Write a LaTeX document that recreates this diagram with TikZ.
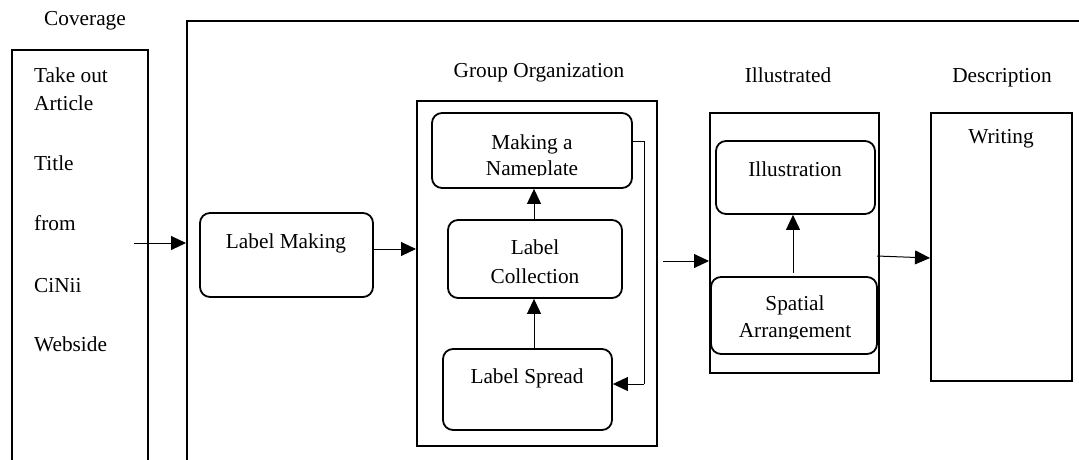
\documentclass[tikz,border=0pt]{standalone}
\usepackage{fontspec}
\setmainfont{Liberation Serif}
\usetikzlibrary{arrows.meta}
\begin{document}
\begin{tikzpicture}[x=1pt,y=-1pt,
  txt/.style={inner sep=0pt,anchor=base,font=\fontsize{21.3}{25}\selectfont},
  frame/.style={draw,line width=2pt},
  rbox/.style={draw,line width=1.8pt,rounded corners=10pt},
  conn/.style={line width=1pt,-{Triangle[length=15pt,width=14pt]}},
  plain/.style={line width=1pt}]
\useasboundingbox (0,0) rectangle (1079,459);

% outer frames (open at the page edges)
\draw[frame] (12,470) -- (12,50) -- (148,50) -- (148,470);
\draw[frame] (187,470) -- (187,21) -- (1090,21);
\coordinate (covout) at (134,243);
\coordinate (mainin) at (186,243);

% column frames
\node[frame,minimum width=240pt,minimum height=345pt,inner sep=0pt] (grp) at (537,273.5) {};
\node[frame,minimum width=169pt,minimum height=260pt,inner sep=0pt] (ill) at (794.5,243) {};
\node[frame,minimum width=141pt,minimum height=268pt,inner sep=0pt] (wrt) at (1001.5,247) {};

% rounded step boxes
\node[rbox,minimum width=173pt,minimum height=84pt,inner sep=0pt] (lm) at (286.5,255) {};
\node[rbox,minimum width=200pt,minimum height=75pt,inner sep=0pt] (np) at (532,150.5) {};
\node[rbox,minimum width=174pt,minimum height=78pt,inner sep=0pt] (lc) at (535,259) {};
\node[rbox,minimum width=169pt,minimum height=81pt,inner sep=0pt] (ls) at (527.5,389.5) {};
\node[rbox,minimum width=159pt,minimum height=73pt,inner sep=0pt] (it) at (795.5,177.5) {};
\node[rbox,minimum width=166pt,minimum height=77pt,inner sep=0pt] (sa) at (794,315.5) {};

% headings
\node[txt] (hcov) at (85,25) {Coverage};
\node[txt] (hgrp) at (539,77) {Group Organization};
\node[txt] (hill) at (788,82) {Illustrated};
\node[txt] (hdes) at (1002,82) {Description};

% coverage list
\node[txt,anchor=base west] (c1) at (34,82) {Take out};
\node[txt,anchor=base west] (c2) at (34,110) {Article};
\node[txt,anchor=base west] (c3) at (34,170) {Title};
\node[txt,anchor=base west] (c4) at (34,230) {from};
\node[txt,anchor=base west] (c5) at (34,292) {CiNii};
\node[txt,anchor=base west] (c6) at (34,351) {Webside};

% box texts
\node[txt] (tlm) at (286,248) {Label Making};
\node[txt] (tnp1) at (532,149) {Making a};
\begin{scope}
  \clip (434,150) rectangle (630,175.5);
  \node[txt] (tnp2) at (532,175) {Nameplate};
\end{scope}
\node[txt] (tlc1) at (535,254) {Label};
\node[txt] (tlc2) at (535,283) {Collection};
\node[txt] (tls) at (527,383) {Label Spread};
\node[txt] (tit) at (795,176) {Illustration};
\node[txt] (tsa1) at (795,310) {Spatial};
\begin{scope}
  \clip (713,315) rectangle (875,338.5);
  \node[txt] (tsa2) at (795,337) {Arrangement};
\end{scope}
\node[txt] (twr) at (1001,143) {Writing};

% connectors
\draw[conn] (covout) -- (mainin);
\draw[conn] (lm.east |- 0,249) -- (grp.west |- 0,249);
\coordinate (upx) at (534,0);
\draw[conn] (lc.north -| upx) -- (np.south -| upx);
\draw[conn] (ls.north -| upx) -- (lc.south -| upx);
\coordinate (fbtop) at (644,141);
\coordinate (fbbot) at (644,384);
\draw[plain] (np.east |- fbtop) -- (fbtop) -- (fbbot);
\draw[conn] (fbbot) -- (ls.east |- fbbot);
\coordinate (grpout) at (663,261);
\draw[conn] (grpout) -- (ill.west |- grpout);
\coordinate (upx2) at (793,273);
\draw[conn] (upx2) -- (it.south -| upx2);
\coordinate (illout) at (877,256);
\draw[conn] (illout) -- (wrt.west |- 0,258);
\end{tikzpicture}
\end{document}
